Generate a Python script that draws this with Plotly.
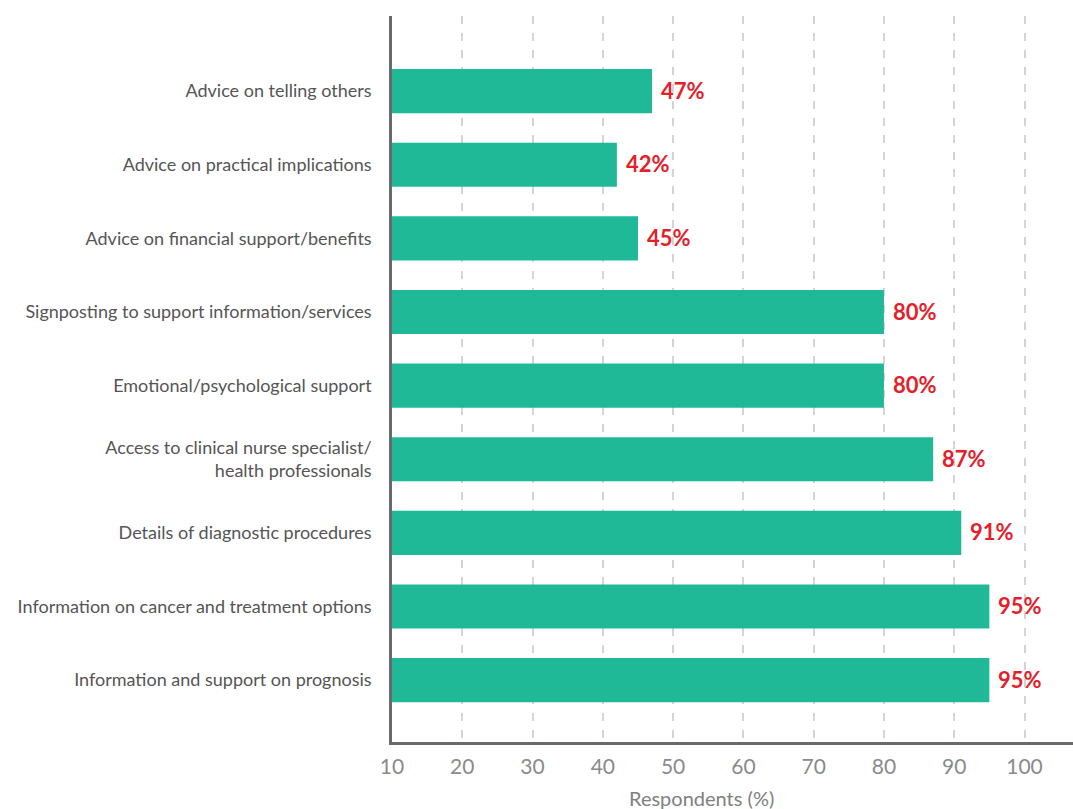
import plotly.graph_objects as go

# Survey items, listed bottom to top
categories = [
    "Information and support on prognosis",
    "Information on cancer and treatment options",
    "Details of diagnostic procedures",
    "Access to clinical nurse specialist/<br>health professionals",
    "Emotional/psychological support",
    "Signposting to support information/services",
    "Advice on financial support/benefits",
    "Advice on practical implications",
    "Advice on telling others",
]
values = [95, 95, 91, 87, 80, 80, 45, 42, 47]
tick_values = [10, 20, 30, 40, 50, 60, 70, 80, 90, 100]

BAR_COLOR = "#20b998"
LABEL_RED = "#e5202a"
FONT = "Lato"

fig = go.Figure()
fig.add_trace(go.Bar(
    x=values,
    y=categories,
    orientation="h",
    marker=dict(color=BAR_COLOR, line=dict(width=0)),
    width=0.6,
    hoverinfo="skip",
))

for cat, v in zip(categories, values):
    fig.add_annotation(
        x=v, y=cat, text=f"<b>{v}%</b>", showarrow=False,
        xanchor="left", xshift=7, yshift=1,
        font=dict(family=FONT, size=22, color=LABEL_RED),
    )

fig.add_annotation(
    x=0.455, xref="paper", y=-0.077, yref="paper", yanchor="middle",
    text="Respondents (%)", showarrow=False,
    font=dict(family=FONT, size=20, color="#808080"),
)

fig.update_layout(
    width=1073, height=809,
    margin=dict(l=392, r=0, t=16, b=67, autoexpand=False),
    plot_bgcolor="white", paper_bgcolor="white",
    showlegend=False,
    font=dict(family=FONT),
    xaxis=dict(
        range=[10, 106.9],
        tickvals=tick_values,
        ticktext=[str(t) for t in tick_values],
        showgrid=True, gridcolor="#d4d4d4", gridwidth=1.5, griddash="8px,9px",
        showline=True, linecolor="#6a6a6e", linewidth=2.5,
        ticks="", zeroline=False, automargin=False,
        tickfont=dict(family=FONT, size=21, color="#8a8a8a"),
        ticklabelstandoff=4,
    ),
    yaxis=dict(
        range=[-0.84, 9.02],
        showgrid=False, showline=True, linecolor="#6a6a6e", linewidth=2.5,
        ticks="", ticklabelstandoff=14, automargin=False,
        tickfont=dict(family=FONT, size=18, color="#555555"),
    ),
)

fig.write_html("out.html")
